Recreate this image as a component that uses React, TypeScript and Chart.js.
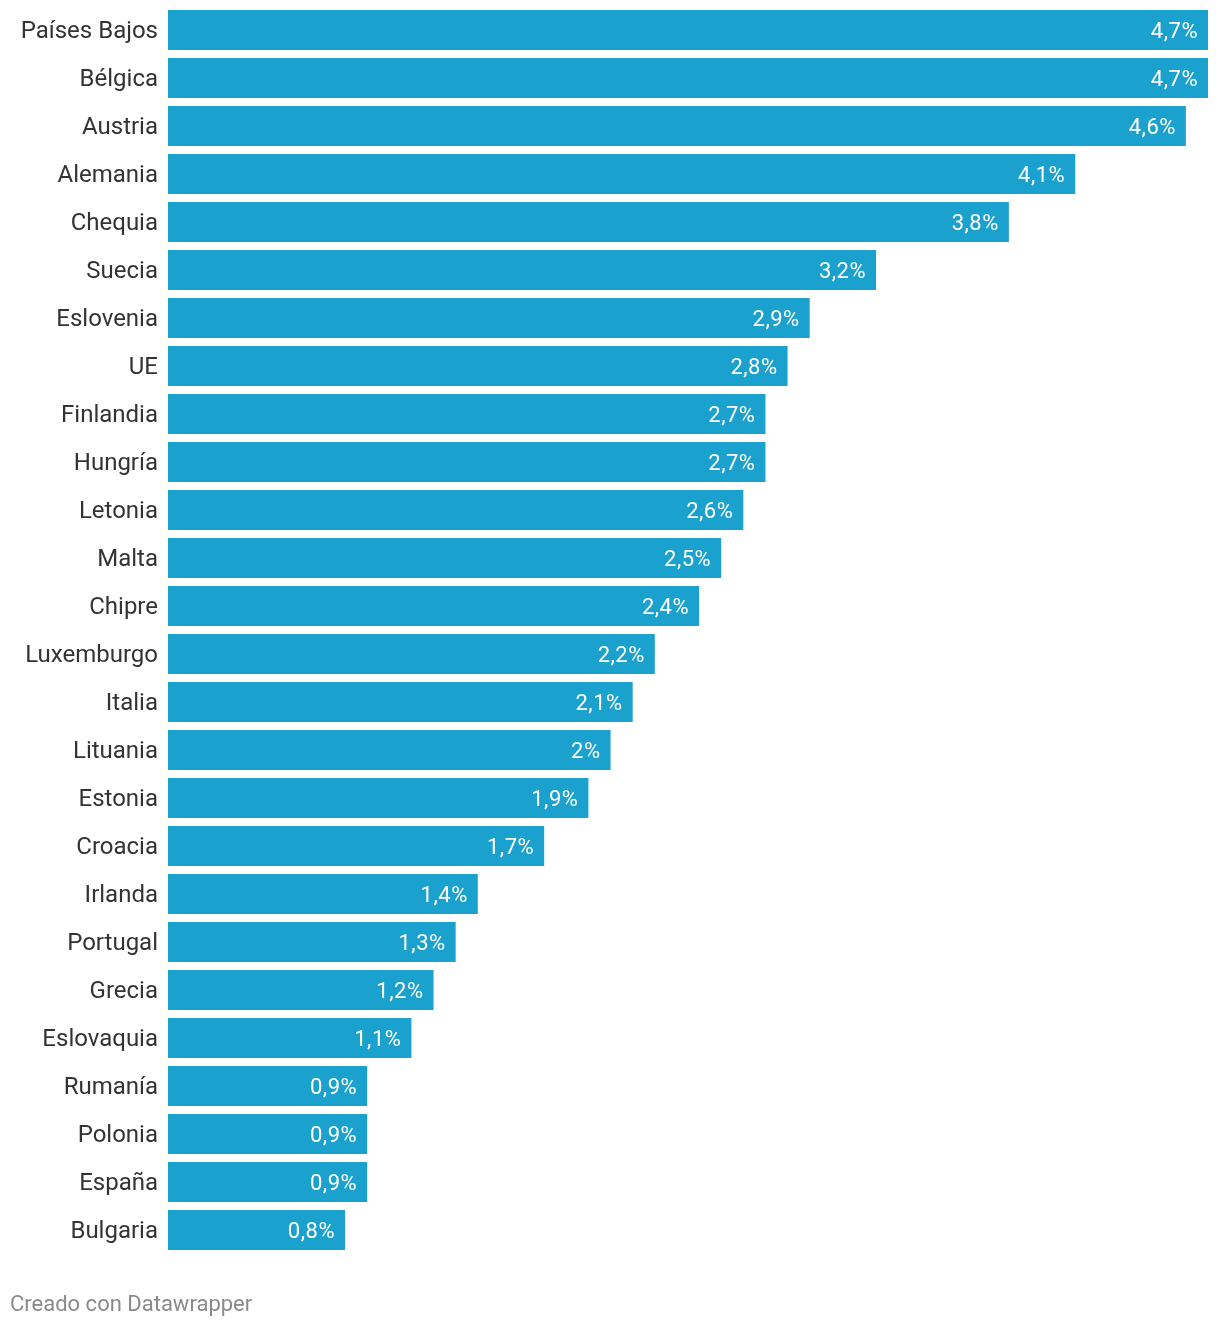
import React, { useEffect, useRef } from "react";
import { Chart, registerables } from "chart.js";

Chart.register(...registerables);

const countries = [
  "Países Bajos", "Bélgica", "Austria", "Alemania", "Chequia", "Suecia", "Eslovenia", "UE",
  "Finlandia", "Hungría", "Letonia", "Malta", "Chipre", "Luxemburgo", "Italia", "Lituania",
  "Estonia", "Croacia", "Irlanda", "Portugal", "Grecia", "Eslovaquia", "Rumanía", "Polonia",
  "España", "Bulgaria",
];
const values = [
  4.7, 4.7, 4.6, 4.1, 3.8, 3.2, 2.9, 2.8,
  2.7, 2.7, 2.6, 2.5, 2.4, 2.2, 2.1, 2.0,
  1.9, 1.7, 1.4, 1.3, 1.2, 1.1, 0.9, 0.9,
  0.9, 0.8,
];
const footerText = "Creado con Datawrapper";

const BAR_COLOR = "#1aa1cd";

function fmt(v: number) {
  return String(v).replace(".", ",") + "%";
}

export default function App() {
  const ref = useRef<HTMLCanvasElement | null>(null);
  useEffect(() => {
    if (!ref.current) return;
    const labelPlugin = {
      id: "valueLabels",
      afterDatasetsDraw(chart: any) {
        const ctx = chart.ctx;
        const meta = chart.getDatasetMeta(0);
        const labels = chart.data.labels as string[];
        ctx.save();
        // category labels
        ctx.font = "400 24px Roboto";
        ctx.fillStyle = "#333333";
        ctx.textAlign = "right";
        ctx.textBaseline = "alphabetic";
        meta.data.forEach((bar: any, i: number) => {
          ctx.fillText(labels[i], chart.chartArea.left - 10, bar.y + 8);
        });
        // value labels
        ctx.font = "400 22px Roboto";
        (ctx as any).letterSpacing = "0.5px";
        ctx.fillStyle = "#ffffff";
        meta.data.forEach((bar: any, i: number) => {
          ctx.fillText(fmt(values[i]), bar.x - 10, bar.y + 8);
        });
        ctx.restore();
      },
      afterDraw(chart: any) {
        const ctx = chart.ctx;
        ctx.save();
        ctx.font = "400 22px Roboto";
        ctx.fillStyle = "#8a8a8a";
        ctx.textAlign = "left";
        ctx.textBaseline = "alphabetic";
        ctx.fillText(footerText, 10, 1311);
        ctx.restore();
      },
    };
    const chart = new Chart(ref.current, {
      type: "bar",
      data: {
        labels: countries,
        datasets: [
          {
            data: values,
            backgroundColor: BAR_COLOR,
            barPercentage: 40 / 48,
            categoryPercentage: 1,
            borderWidth: 0,
          },
        ],
      },
      options: {
        indexAxis: "y",
        responsive: false,
        animation: false,
        maintainAspectRatio: false,
        layout: { padding: { left: 168, right: 12, top: 6, bottom: 72 } },
        plugins: { legend: { display: false }, tooltip: { enabled: false } },
        scales: {
          x: { display: false, min: 0, max: 4.7 },
          y: { display: false },
        },
      },
      plugins: [labelPlugin],
    } as any);
    return () => chart.destroy();
  }, []);
  return (
    <div style={{ position: "absolute", left: 0, top: 0, width: 1220, height: 1326, background: "#fff" }}>
      <canvas ref={ref} width={1220} height={1326} style={{ display: "block" }} />
    </div>
  );
}
